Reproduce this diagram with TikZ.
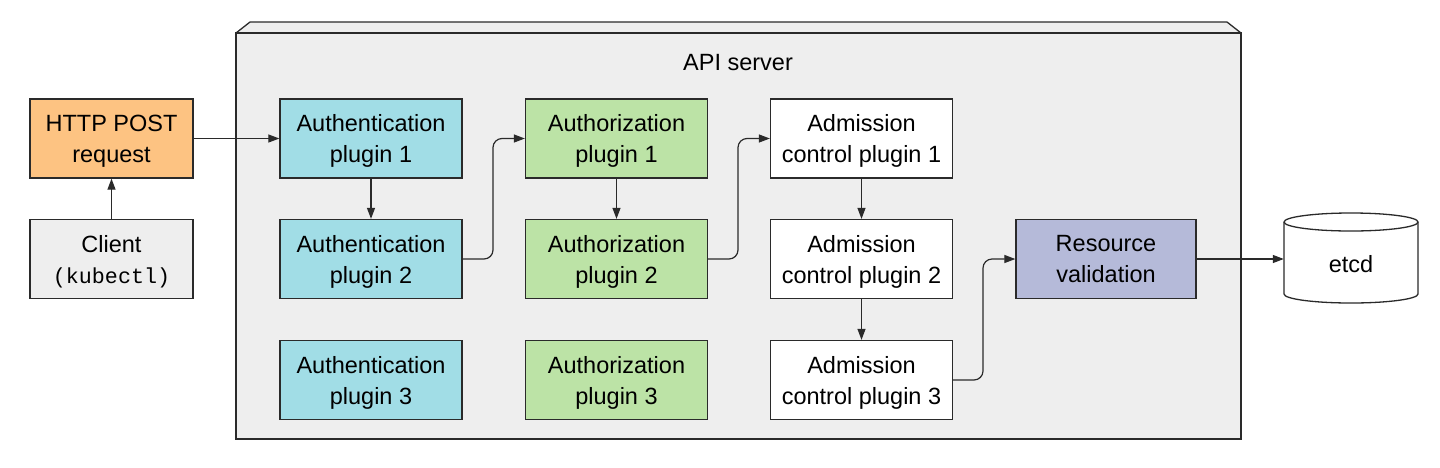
\documentclass[tikz,border=0pt]{standalone}
\usepackage{fontspec}
\setmainfont{Liberation Sans}
\setmonofont{Liberation Mono}
\usetikzlibrary{arrows.meta}
\definecolor{apigrey}{HTML}{EEEEEE}
\definecolor{httporange}{HTML}{FDC382}
\definecolor{authcyan}{HTML}{A1DDE6}
\definecolor{authzgreen}{HTML}{BCE3A6}
\definecolor{resvpurple}{HTML}{B5BAD9}
\definecolor{linegrey}{HTML}{2A2A2A}
\tikzset{
  box/.style={draw=linegrey, line width=1.3pt, rectangle, minimum width=182pt, minimum height=79pt,
    align=center, font=\fontsize{23.5}{31}\selectfont, inner sep=0pt, text depth=0pt},
  conn/.style={draw=linegrey, line width=1.2pt, -{Triangle[length=11pt,width=8pt]}, rounded corners=9pt},
}
\begin{document}
\begin{tikzpicture}[x=1pt,y=-1pt]
\useasboundingbox (0,0) rectangle (1440,467);
% API server container
\draw[draw=linegrey, line width=1.3pt, fill=apigrey, line join=round] (236,33) -- (250,22) -- (1227,22) -- (1241,33) -- cycle;
\draw[draw=linegrey, line width=2pt, fill=apigrey] (236,33) rectangle (1241,439);
\node[font=\fontsize{23.5}{28}\selectfont] (api) at (738,63) {API server};
% left side
\node[box, fill=httporange, minimum width=163pt] (http) at (111.5,138.5) {HTTP POST\\request};
\node[box, fill=apigrey, minimum width=163pt] (client) at (111.5,259) {Client\\{\ttfamily\fontsize{21.7}{31}\selectfont (kubectl)}};
% authentication
\node[box, fill=authcyan] (an1) at (371,138.5) {Authentication\\plugin 1};
\node[box, fill=authcyan] (an2) at (371,259) {Authentication\\plugin 2};
\node[box, fill=authcyan] (an3) at (371,380) {Authentication\\plugin 3};
% authorization
\node[box, fill=authzgreen] (az1) at (616.5,138.5) {Authorization\\plugin 1};
\node[box, fill=authzgreen] (az2) at (616.5,259) {Authorization\\plugin 2};
\node[box, fill=authzgreen] (az3) at (616.5,380) {Authorization\\plugin 3};
% admission
\node[box, fill=white] (ad1) at (861.5,138.5) {Admission\\control plugin 1};
\node[box, fill=white] (ad2) at (861.5,259) {Admission\\control plugin 2};
\node[box, fill=white] (ad3) at (861.5,380) {Admission\\control plugin 3};
% resource validation
\node[box, fill=resvpurple, minimum width=180pt] (rv) at (1106,259) {Resource\\validation};
% etcd cylinder
\draw[draw=linegrey, line width=1.3pt, fill=white] (1284,222) -- (1284,294) arc[start angle=180, end angle=0, x radius=67, y radius=9] -- (1418,222) arc[start angle=0, end angle=-180, x radius=67, y radius=9] -- cycle;
\draw[draw=linegrey, line width=1.3pt] (1284,222) arc[start angle=180, end angle=0, x radius=67, y radius=9];
\node[font=\fontsize{23.5}{28}\selectfont, minimum width=134pt, minimum height=90pt, inner sep=0pt] (etcd) at (1351,264) {etcd};
% connectors
\draw[conn] (client.north) -- (http.south);
\draw[conn] (http.east) -- (an1.west);
\draw[conn] (an1.south) -- (an2.north);
\draw[conn] (an2.east) -- (493,259) -- (493,138.5) -- (az1.west);
\draw[conn] (az1.south) -- (az2.north);
\draw[conn] (az2.east) -- (738,259) -- (738,138.5) -- (ad1.west);
\draw[conn] (ad1.south) -- (ad2.north);
\draw[conn] (ad2.south) -- (ad3.north);
\draw[conn] (ad3.east) -- (983,380) -- (983,259) -- (rv.west);
\draw[conn] (rv.east) -- (etcd.west |- rv.east);
\end{tikzpicture}
\end{document}
